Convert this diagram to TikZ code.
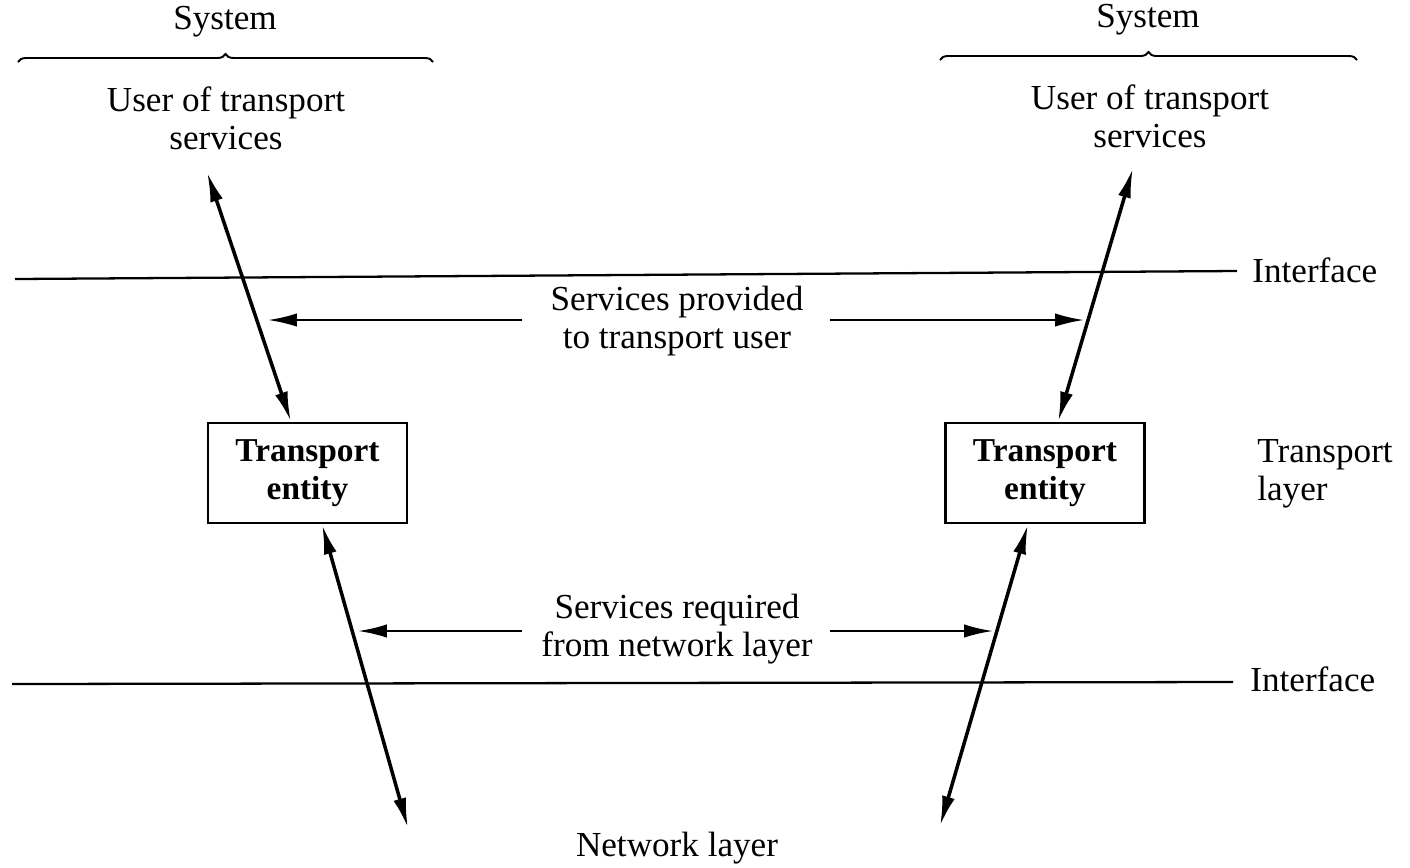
\documentclass[tikz,border=0pt]{standalone}
\usepackage{fontspec}
\setmainfont{Liberation Serif}
\usetikzlibrary{arrows.meta,decorations.pathreplacing}
\begin{document}
\begin{tikzpicture}[x=0.02cm,y=-0.02cm,
  lbl/.style={font=\fontsize{20}{21.5}\selectfont, align=center, inner sep=0pt},
  entity/.style={draw, line width=1.5pt, font=\bfseries\fontsize{19}{21.5}\selectfont,
    align=center, minimum width=3.98cm, minimum height=2.0cm, inner sep=0pt},
  flow/.style={line width=2pt, {Latex[length=0.6cm,width=0.26cm]}-{Latex[length=0.6cm,width=0.26cm]}},
  svc/.style={line width=1.4pt, -{Latex[length=0.58cm,width=0.27cm]}},
  iface/.style={line width=1.3pt},
  sysbrace/.style={line width=1.1pt, decorate, decoration={brace, amplitude=0.16cm}}]
\useasboundingbox (0,0) rectangle (1410,867);

% systems and their users
\node[lbl] (sysL) at (225,22) {System};
\node[lbl] (sysR) at (1148,20) {System};
\coordinate (bLa) at (18,62);  \coordinate (bLb) at (433,62);
\coordinate (bRa) at (940,60); \coordinate (bRb) at (1357,60);
\draw[sysbrace] (bLa) -- (bLb);
\draw[sysbrace] (bRa) -- (bRb);
\node[lbl] (userL) at (226,118) {User of transport\\services};
\node[lbl] (userR) at (1150,116) {User of transport\\services};

% layer boundaries
\coordinate (i1a) at (15,279);  \coordinate (i1b) at (1237,271);
\coordinate (i2a) at (12,684);  \coordinate (i2b) at (1233,682);
\draw[iface] (i1a) -- (i1b);
\draw[iface] (i2a) -- (i2b);
\node[lbl, anchor=west] (if1) at (1252,270) {Interface};
\node[lbl, anchor=west] (if2) at (1250,679) {Interface};
\node[lbl, anchor=west, align=left] (tl) at (1257,474) {Transport\\layer};

% transport entities
\node[entity] (teL) at (307.5,473) {Transport\\entity};
\node[entity] (teR) at (1045,473) {Transport\\entity};

% vertical service flows
\coordinate (uL) at (207,172);
\coordinate (uR) at (1133,168);
\coordinate (nL) at (408,828);
\coordinate (nR) at (940,826);
\draw[flow] (uL) -- (teL.north -| 291,0);
\draw[flow] (uR) -- (teR.north -| 1058,0);
\draw[flow] (teL.south -| 322,0) -- (nL);
\draw[flow] (teR.south -| 1028,0) -- (nR);

% service labels and their arrows
\node[lbl] (prov) at (677,321) {Services provided\\to transport user};
\node[lbl] (req) at (677,629) {Services required\\from network layer};
\coordinate (p1) at (522,320); \coordinate (p2) at (268,320);
\coordinate (p3) at (830,320); \coordinate (p4) at (1084,320);
\coordinate (r1) at (522,631); \coordinate (r2) at (358,631);
\coordinate (r3) at (830,631); \coordinate (r4) at (993,631);
\draw[svc] (p1) -- (p2);
\draw[svc] (p3) -- (p4);
\draw[svc] (r1) -- (r2);
\draw[svc] (r3) -- (r4);

\node[lbl] (net) at (677,848) {Network layer};
\end{tikzpicture}
\end{document}
